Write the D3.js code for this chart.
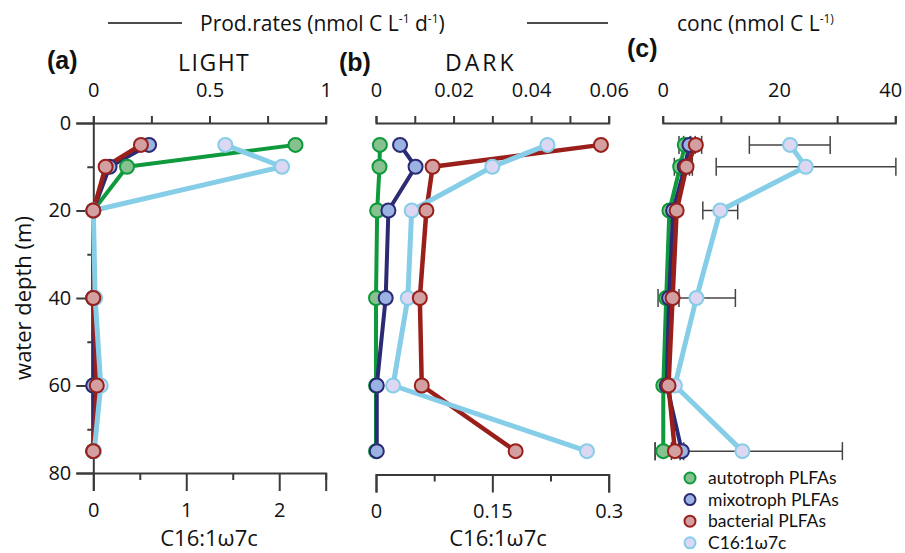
<!DOCTYPE html>
<html>
<head>
<meta charset="utf-8">
<script src="https://cdn.jsdelivr.net/npm/d3@7"></script>
<style>
  body { margin: 0; background: #fff; }
  svg { display: block; font-family: "Open Sans", sans-serif; }
</style>
</head>
<body>
<div id="stage"></div>
<script>
// depths sampled (m)
const depths = [5, 10, 20, 40, 60, 75];
const seriesNames = ["autotroph PLFAs", "mixotroph PLFAs", "bacterial PLFAs", "C16:1ω7c"];

// (a) LIGHT prod. rates, PLFAs on top axis, C16 on bottom axis
const lightAuto = [0.87, 0.145, 0, 0, 0, 0];
const lightMixo = [0.24, 0.07, 0, 0, 0, 0];
const lightBact = [0.205, 0.053, 0, 0, 0.015, 0];
const lightC16 = [1.42, 2.03, 0, 0.02, 0.08, 0.01];

// (b) DARK prod. rates
const darkAuto = [0.001, 0.0009, 0.0003, 0, 0, 0];
const darkMixo = [0.0062, 0.0102, 0.0032, 0.0025, 0.0002, 0.0002];
const darkBact = [0.058, 0.0146, 0.013, 0.0113, 0.0118, 0.036];
const darkC16 = [0.221, 0.150, 0.046, 0.041, 0.022, 0.272];

// (c) concentrations + error bars
const concAuto = [3.8, 3.0, 1.15, 0.6, 0.1, 0.1];
const concMixo = [4.6, 3.8, 1.8, 1.1, 0.7, 3.3];
const concBact = [5.7, 4.1, 2.4, 1.7, 1.0, 2.1];
const concC16 = [21.9, 24.6, 9.9, 5.8, 2.1, 13.7];
const concAutoErr = [1.0, 1.0, 0, 0, 0, 1.4];
const concMixoErr = [1.0, 0.8, 0, 0, 0, 0.3];
const concBactErr = [1.0, 1.0, 0, 1.1, 0, 0];
const concC16ErrLo = [7.0, 15.4, 3.0, 6.6, 0, 15.0];
const concC16ErrHi = [6.9, 15.5, 3.0, 6.7, 0, 17.2];

// axis ticks
const depthTicks = [0, 10, 20, 30, 40, 50, 60, 70, 80];
const depthLabels = [0, 20, 40, 60, 80];
const lightTopTicks = [0, 0.25, 0.5, 0.75, 1];
const lightTopLabels = [0, 0.5, 1];
const lightBotTicks = [0, 0.5, 1, 1.5, 2, 2.5];
const lightBotLabels = [0, 1, 2];
const darkTopTicks = [0, 0.01, 0.02, 0.03, 0.04, 0.05, 0.06];
const darkTopLabels = [0, 0.02, 0.04, 0.06];
const darkBotTicks = [0, 0.075, 0.15, 0.225, 0.3];
const darkBotLabels = [0, 0.15, 0.3];
const concTicks = [0, 10, 20, 30, 40];
const concLabels = [0, 20, 40];

const styles = [
  { line: "#0e9a3c", fill: "#86c18f", stroke: "#0e9a3c", w: 4 },
  { line: "#2b2a74", fill: "#9bb3e2", stroke: "#2b2a74", w: 4 },
  { line: "#9a1f1a", fill: "#d3a0a1", stroke: "#9a1f1a", w: 4.5 },
  { line: "#86cde8", fill: "#dcd8f3", stroke: "#86cde8", w: 5 }
];

const width = 905, height = 553;
const top0 = 123, bot0 = 473;
const axisClr = "#3a3a3a";
const fs = 20;

const svg = d3.select("#stage").append("svg")
  .attr("width", width)
  .attr("height", height);

const yScale = d3.scaleLinear().domain([0, 80]).range([top0, bot0]);

const fmt = d => String(d);

// draws one axis, minor ticks get a short tick and no label
const drawAxis = (g, axisFn, scale, ticks, labels, major, minor, pad) => {
  const ax = axisFn(scale)
    .tickValues(ticks)
    .tickSizeOuter(0)
    .tickSize(major)
    .tickPadding(pad)
    .tickFormat(d => labels.includes(d) ? fmt(d) : "");
  g.call(ax);
  g.select(".domain").attr("stroke", axisClr).attr("stroke-width", 2);
  g.selectAll(".tick line")
    .attr("stroke", axisClr)
    .attr("stroke-width", 2)
    .each(function (d) {
      if (!labels.includes(d) && minor != null) {
        const el = d3.select(this);
        if (el.attr("y2") != null && +el.attr("y2") !== 0) el.attr("y2", Math.sign(+el.attr("y2")) * minor);
        if (el.attr("x2") != null && +el.attr("x2") !== 0) el.attr("x2", Math.sign(+el.attr("x2")) * minor);
      }
    });
  g.selectAll(".tick text")
    .attr("fill", "#111")
    .style("font-size", fs + "px")
    .style("font-family", "'Open Sans', sans-serif");
  return g;
};

const lineGen = (xs) => d3.line()
  .x((d, i) => xs(d))
  .y((d, i) => yScale(depths[i]));

// one panel: series lines + markers
const drawSeries = (g, list) => {
  [0, 1, 2, 3].forEach(k => {
    const s = list[k];
    g.append("path")
      .attr("d", lineGen(s.scale)(s.values))
      .attr("fill", "none")
      .attr("stroke", styles[k].line)
      .attr("stroke-width", styles[k].w)
      .attr("stroke-linejoin", "round");
  });
  // markers, bacterial on top
  [0, 1, 3, 2].forEach(k => {
    const s = list[k];
    g.selectAll(null)
      .data(s.values)
      .enter().append("circle")
      .attr("cx", d => s.scale(d))
      .attr("cy", (d, i) => yScale(depths[i]))
      .attr("r", 7)
      .attr("fill", styles[k].fill)
      .attr("stroke", styles[k].stroke)
      .attr("stroke-width", 2);
  });
};

// ---- panel (a) LIGHT ----
const xA = d3.scaleLinear().domain([0, 1]).range([93.3, 325.7]);
const xA2 = d3.scaleLinear().domain([0, 2.5]).range([93.3, 325.7]);

drawAxis(svg.append("g").attr("transform", `translate(0,${top0})`),
  d3.axisTop, xA, lightTopTicks, lightTopLabels, 7, 7, 19);
drawAxis(svg.append("g").attr("transform", `translate(0,${bot0})`),
  d3.axisBottom, xA2, lightBotTicks, lightBotLabels, 18, 7, 12);
drawAxis(svg.append("g").attr("transform", `translate(93.3,0)`),
  d3.axisLeft, yScale, depthTicks, depthLabels, 17, 6, 5);

// ---- panel (b) DARK ----
const xB = d3.scaleLinear().domain([0, 0.06]).range([376, 608.7]);
const xB2 = d3.scaleLinear().domain([0, 0.3]).range([376, 608.7]);

drawAxis(svg.append("g").attr("transform", `translate(0,${top0})`),
  d3.axisTop, xB, darkTopTicks, darkTopLabels, 7, 7, 19);
drawAxis(svg.append("g").attr("transform", `translate(0,${bot0 + 1.5})`),
  d3.axisBottom, xB2, darkBotTicks, darkBotLabels, 18, 7, 11);

// ---- panel (c) conc ----
const xC = d3.scaleLinear().domain([0, 40]).range([662.7, 895.3]);

const axC = drawAxis(svg.append("g").attr("transform", `translate(0,${top0})`),
  d3.axisTop, xC, concTicks, concLabels, 7, 7, 19);
// last label sits a little inside the edge
axC.selectAll(".tick text").filter(d => d === 40).attr("dx", -5);

// error bars (c)
const errG = svg.append("g");
const errSets = [
  { v: concAuto, lo: concAutoErr, hi: concAutoErr },
  { v: concMixo, lo: concMixoErr, hi: concMixoErr },
  { v: concBact, lo: concBactErr, hi: concBactErr },
  { v: concC16, lo: concC16ErrLo, hi: concC16ErrHi }
];
errSets.forEach(e => {
  e.v.forEach((v, i) => {
    if (e.lo[i] <= 0 && e.hi[i] <= 0) return;
    const y = yScale(depths[i]);
    const x1 = xC(v - e.lo[i]), x2 = xC(v + e.hi[i]);
    errG.append("line").attr("x1", x1).attr("x2", x2).attr("y1", y).attr("y2", y)
      .attr("stroke", "#444").attr("stroke-width", 1.5);
    [x1, x2].forEach(x => {
      errG.append("line").attr("x1", x).attr("x2", x).attr("y1", y - 9).attr("y2", y + 9)
        .attr("stroke", "#444").attr("stroke-width", 1.5);
    });
  });
});

drawSeries(svg.append("g"), [
  { values: lightAuto, scale: xA },
  { values: lightMixo, scale: xA },
  { values: lightBact, scale: xA },
  { values: lightC16, scale: xA2 }
]);
drawSeries(svg.append("g"), [
  { values: darkAuto, scale: xB },
  { values: darkMixo, scale: xB },
  { values: darkBact, scale: xB },
  { values: darkC16, scale: xB2 }
]);
drawSeries(svg.append("g"), [
  { values: concAuto, scale: xC },
  { values: concMixo, scale: xC },
  { values: concBact, scale: xC },
  { values: concC16, scale: xC }
]);

// ---- texts ----
const txt = (x, y, s, size, anchor) => svg.append("text")
  .attr("x", x).attr("y", y)
  .attr("text-anchor", anchor || "start")
  .style("font-size", size + "px")
  .attr("fill", "#111")
  .text(s);

// header lines + units
svg.append("line").attr("x1", 108).attr("x2", 182).attr("y1", 23).attr("y2", 23)
  .attr("stroke", "#111").attr("stroke-width", 1.3);
svg.append("line").attr("x1", 527).attr("x2", 608).attr("y1", 23).attr("y2", 23)
  .attr("stroke", "#111").attr("stroke-width", 1.3);

const supText = (x, y, parts) => {
  const t = svg.append("text").attr("x", x).attr("y", y)
    .style("font-size", "21px").attr("fill", "#111");
  parts.forEach(p => {
    const ts = t.append("tspan").text(p[0]);
    if (p[1]) ts.attr("dy", -8).style("font-size", "12px");
    else if (p[2]) ts.attr("dy", 8);
  });
};
supText(200, 31, [["Prod.rates (nmol C L"], ["-1", true], [" d", false, true], ["-1", true], [")", false, true]]);
supText(677, 31, [["conc (nmol C L"], ["-1)", true]]);

// panel letters
[["(a)", 47, 69], ["(b)", 339, 71], ["(c)", 627, 57]].forEach(p => {
  svg.append("text").attr("x", p[1]).attr("y", p[2])
    .style("font-family", "'Liberation Sans', Arial, sans-serif")
    .style("font-weight", "bold").style("font-size", "25px")
    .attr("fill", "#111").text(p[0]);
});

txt(178, 71, "LIGHT", 23).style("letter-spacing", "1.5px");
txt(445, 71, "DARK", 23).style("letter-spacing", "3px");

// bottom titles
txt(209, 546, "C16:1ω7c", 22, "middle");
txt(498, 546, "C16:1ω7c", 22, "middle");

// y title
svg.append("text")
  .attr("transform", `translate(31,${(top0 + bot0) / 2}) rotate(-90)`)
  .attr("text-anchor", "middle")
  .style("font-size", "22px")
  .attr("fill", "#111")
  .text("water depth (m)");

// legend (Lato keeps the rows from overlapping at this spacing)
const leg = svg.append("g").attr("transform", "translate(690,478)");
seriesNames.forEach((n, i) => {
  const y = i * 21.6;
  leg.append("circle").attr("cx", 0).attr("cy", y).attr("r", 5.5)
    .attr("fill", styles[i].fill).attr("stroke", styles[i].stroke).attr("stroke-width", 2);
  leg.append("text").attr("x", 18).attr("y", y + 6)
    .style("font-family", "Lato, sans-serif")
    .style("font-size", "17.5px").attr("fill", "#111").text(n);
});
</script>
</body>
</html>
